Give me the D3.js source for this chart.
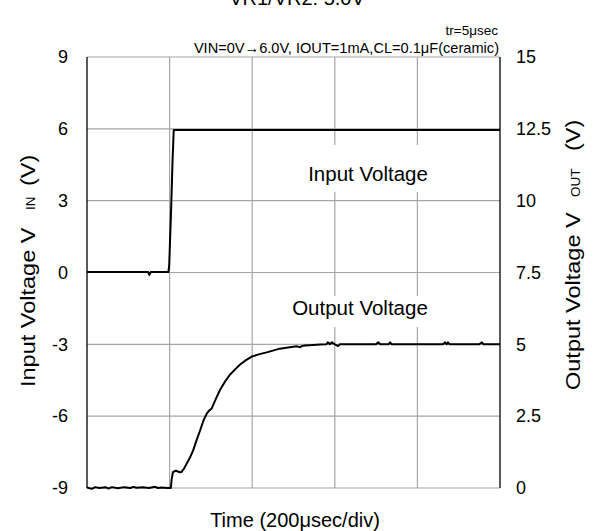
<!DOCTYPE html>
<html>
<head>
<meta charset="utf-8">
<script src="https://cdn.jsdelivr.net/npm/d3@7"></script>
<style>
  html, body { margin: 0; padding: 0; background: #fff; }
  svg { display: block; }
  text { font-family: "Liberation Sans", Arial, sans-serif; fill: #000; }
</style>
</head>
<body>
<svg id="chart" width="597" height="531"></svg>
<script>
// ---- data ----
const timeTicks = [0, 200, 400, 600, 800, 1000];           // µs, 200 µs/div
const leftTicks = [-9, -6, -3, 0, 3, 6, 9];                 // Input voltage (V)
const rightTicks = [0, 2.5, 5, 7.5, 10, 12.5, 15];          // Output voltage (V)

const inputTime = [0, 60, 148, 151, 154, 197, 199, 202, 204, 207, 210, 1000];
const inputVolt = [0.02, 0.02, 0.02, -0.1, 0.02, 0.02, 0.3, 1.8, 2.8, 4.6, 5.95, 5.95];

const outputTime = [0, 12, 20, 30, 45, 52, 60, 75, 90, 105, 112, 120, 135, 150, 165, 172, 180, 195, 203,
  205, 208, 215, 225, 229, 235, 241, 249, 257, 265, 274, 282, 290, 296, 302, 312, 322, 334, 346,
  358, 370, 385, 400, 418, 435, 450, 467, 487, 508, 516, 520, 528, 548, 565, 580, 583, 588, 593,
  600, 608, 612, 700, 705, 710, 730, 734, 738, 862, 867, 871, 874, 878, 950, 956, 960, 1000];
const outputVolt = [0.02, -0.03, 0.03, 0.0, 0.03, -0.02, 0.03, -0.01, 0.03, 0.0, 0.04, 0.01, 0.03, 0.0, 0.04, 0.0, 0.02, 0.0, 0.0,
  0.3, 0.55, 0.6, 0.55, 0.56, 0.68, 0.84, 1.05, 1.31, 1.65, 2.01, 2.35, 2.59, 2.7, 2.77, 3.1, 3.41, 3.7, 3.94,
  4.12, 4.29, 4.45, 4.58, 4.66, 4.72, 4.78, 4.85, 4.89, 4.93, 4.9, 4.94, 4.96, 4.98, 4.99, 5.0, 5.07, 5.0, 5.07,
  5.0, 4.94, 5.0, 5.0, 5.07, 5.0, 5.0, 5.07, 5.0, 5.0, 5.07, 5.0, 5.07, 5.0, 5.0, 5.07, 5.0, 5.0];

const titleText = "VR1/VR2: 5.0V";
const noteText1 = "tr=5μsec";
const noteText2 = "VIN=0V→6.0V, IOUT=1mA,CL=0.1μF(ceramic)";
const xTitle = "Time (200μsec/div)";

// ---- layout ----
const svg = d3.select("#chart");
const L = 87, R = 500, T = 57, B = 488;
const x = d3.scaleLinear().domain([0, 1000]).range([L, R]);
const yL = d3.scaleLinear().domain([-9, 9]).range([B, T]);
const yR = d3.scaleLinear().domain([0, 15]).range([B, T]);
const FONT = "Liberation Sans, Arial, sans-serif";

// grid
const grid = svg.append("g").attr("stroke", "#a6a6a6").attr("stroke-width", 1.2);
grid.selectAll("line.h").data(leftTicks).join("line")
  .attr("x1", L).attr("x2", R).attr("y1", d => yL(d)).attr("y2", d => yL(d));
grid.selectAll("line.v").data(timeTicks.slice(1, -1)).join("line")
  .attr("y1", T).attr("y2", B).attr("x1", d => x(d)).attr("x2", d => x(d));

// label backgrounds and labels in plot
function boxedLabel(txt, xc, yBase, padTop, padBot) {
  const g = svg.append("g");
  const rect = g.append("rect").attr("fill", "#fff");
  const t = g.append("text").attr("x", xc).attr("y", yBase).attr("text-anchor", "middle")
    .attr("font-size", 20.5).text(txt);
  const bb = t.node().getBBox();
  rect.attr("x", bb.x - 3).attr("width", bb.width + 6)
    .attr("y", yBase - padTop).attr("height", padTop + padBot);
}
boxedLabel("Input Voltage", 368, 181, 36, 11);
boxedLabel("Output Voltage", 360, 315, 19, 12);

// axes lines
svg.append("line").attr("x1", L).attr("x2", L).attr("y1", T).attr("y2", B).attr("stroke", "#000").attr("stroke-width", 1.3);
svg.append("line").attr("x1", R).attr("x2", R).attr("y1", T).attr("y2", B).attr("stroke", "#000").attr("stroke-width", 1.3);

// data lines
const inData = inputTime.map((t, i) => [t, inputVolt[i]]);
const outData = outputTime.map((t, i) => [t, outputVolt[i]]);
svg.append("path").datum(inData)
  .attr("fill", "none").attr("stroke", "#000").attr("stroke-width", 2).attr("stroke-linejoin", "round")
  .attr("d", d3.line().x(d => x(d[0])).y(d => yL(d[1])));
svg.append("path").datum(outData)
  .attr("fill", "none").attr("stroke", "#000").attr("stroke-width", 2).attr("stroke-linejoin", "round")
  .attr("d", d3.line().x(d => x(d[0])).y(d => yR(d[1])));

// tick labels via axes
const axL = svg.append("g").attr("transform", `translate(${L},0)`)
  .call(d3.axisLeft(yL).tickValues(leftTicks).tickSize(0).tickPadding(19).tickFormat(d => String(d)));
const axR = svg.append("g").attr("transform", `translate(${R},0)`)
  .call(d3.axisRight(yR).tickValues(rightTicks).tickSize(0).tickPadding(16).tickFormat(d => String(d)));
[axL, axR].forEach(a => {
  a.select(".domain").remove();
  a.selectAll("text").attr("font-size", 18).attr("font-family", FONT).attr("fill", "#000");
});

// titles
svg.append("text").attr("x", 297).attr("y", 5).attr("text-anchor", "middle").attr("font-size", 20).text(titleText);
svg.append("text").attr("x", 498).attr("y", 35).attr("text-anchor", "end").attr("font-size", 13.5).text(noteText1);
svg.append("text").attr("x", 499).attr("y", 53).attr("text-anchor", "end").attr("font-size", 14.6).text(noteText2);
svg.append("text").attr("x", 295).attr("y", 527).attr("text-anchor", "middle").attr("font-size", 20).text(xTitle);

// rotated axis titles (slightly stretched along their length, as in the reference)
const SX = 1.12;
const lt = svg.append("text").attr("transform", `translate(35,387) rotate(-90) scale(${SX},1)`)
  .attr("text-anchor", "start").attr("font-size", 21);
lt.append("tspan").attr("x", 0).text("Input Voltage V");
lt.append("tspan").attr("x", 177 / SX).attr("font-size", 12).text("IN");
lt.append("tspan").attr("x", 201 / SX).text("(V)");

const rt = svg.append("text").attr("transform", `translate(580,390) rotate(-90) scale(${SX},1)`)
  .attr("text-anchor", "start").attr("font-size", 21);
rt.append("tspan").attr("x", 0).text("Output Voltage V");
rt.append("tspan").attr("x", 193 / SX).attr("font-size", 12).text("OUT");
rt.append("tspan").attr("x", 239 / SX).text("(V)");
</script>
</body>
</html>
